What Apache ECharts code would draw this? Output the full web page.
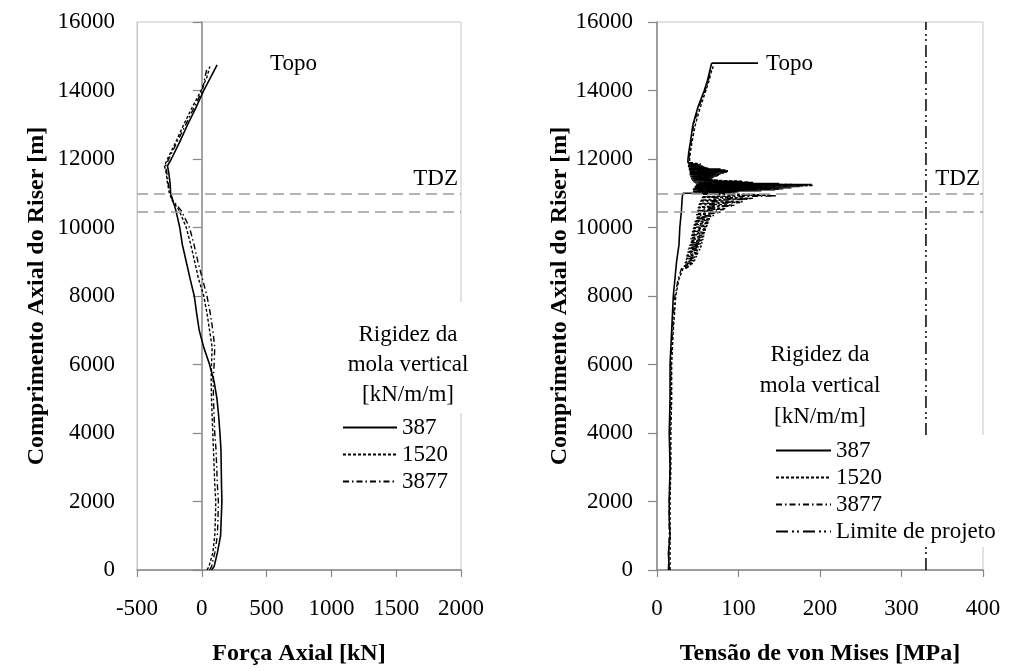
<!DOCTYPE html>
<html><head><meta charset="utf-8">
<script src="https://cdn.jsdelivr.net/npm/echarts@6.0.0/dist/echarts.min.js"></script>
<style>html,body{margin:0;padding:0;background:#fff}#c{width:1019px;height:671px}</style>
</head><body><div id="c"></div><script>
// ---------- DATA ----------
// Left chart: axial force [kN] vs axial length [m]
const lenF387  = [0,100,500,1000,1500,2000,2500,3000,3500,4000,4500,5000,5500,6000,6500,7000,7500,8000,8500,9000,9500,10000,10500,10800,11000,11300,11600,11800,12000,12500,13000,13500,14000,14400,14750];
const force387 = [75,95,120,145,150,155,152,150,148,140,130,117,95,60,15,-20,-40,-58,-90,-120,-150,-170,-200,-225,-240,-245,-255,-265,-235,-170,-110,-45,15,70,118];
const lenF1520  = [0,100,500,1000,1500,2000,2500,3000,3500,4000,4500,5000,5500,6000,6500,7000,7500,8000,8500,9000,9500,10000,10500,10800,11000,11300,11600,11800,12000,12500,13000,13500,14000,14400,14700];
const force1520 = [40,55,85,100,105,108,100,95,90,85,80,75,72,75,80,60,40,15,-25,-55,-85,-120,-175,-230,-250,-265,-275,-288,-265,-200,-140,-75,-5,40,62];
const lenF3877  = [0,100,500,1000,1500,2000,2500,3000,3500,4000,4500,5000,5500,6000,6500,7000,7500,8000,8500,9000,9500,10000,10500,10800,11000,11300,11600,11800,12000,12500,13000,13500,14000,14400,14650];
const force3877 = [60,75,100,120,125,128,120,115,110,100,95,90,88,95,100,85,65,40,5,-30,-60,-95,-160,-225,-245,-260,-270,-280,-255,-190,-125,-60,5,25,40];

// Right chart: von Mises stress [MPa] vs axial length [m]
const lenS387 = [0,500,1000,1500,2000,3000,4000,5000,6000,7000,8000,8500,9000,9500,10000,10500,10900,
  11000,11015,11030,11045,11060,11075,11090,11105,11120,11135,
  11150,11165,11180,11195,11210,11225,11240,11255,11270,11285,
  11300,11315,11330,11345,11360,11375,11390,11405,11420,11435,
  11450,11465,11480,11495,11510,11525,11540,11555,11570,11585,
  11600,11615,11630,11645,11660,11675,11690,11705,11720,11735,
  11750,11765,11780,11795,11810,11825,11840,11855,11870,11885,
  11900,
  12000,12200,12500,13000,13500,14000,14300,14500,14700,14800];
const stress387 = [15,14,16,15,15,16,15,16,16,18,20,22,24,27,28,30,31,
  32,95,45,100,44,128,45,145,44,155,
  46,165,46,175,47,185,48,190,48,150,
  47,118,45,100,44,75,43,68,42,66,
  42,70,41,74,41,76,40,78,40,82,
  40,86,40,87,40,84,39,78,39,62,
  39,58,38,56,38,52,38,48,38,44,
  38,
  38,39,41,44,50,58,62,64,66,67];

const lenS1520 = [0,1000,2000,3000,4000,5000,6000,7000,8000,8500,
  8800,8850,8900,8950,9000,9050,9100,9150,9200,9250,9300,9350,9400,9450,9500,9550,9600,9650,9700,9750,
  9800,9850,9900,9950,10000,10050,10100,10150,10200,10250,10300,10350,10400,10450,10500,10550,10600,10650,10700,10750,
  10800,10850,10900,10950,11000,11050,11100,11150,11200,11250,11300,11350,11400,11450,11500,11550,11600,11650,11700,11750,
  11800,11850,11900,
  12000,12200,12500,13000,13500,14000,14300,14500,14700];
const stress1520 = [16,16,16,17,17,18,18,20,23,27,
  32,40,34,45,35,47,36,49,37,51,38,53,39,55,40,56,41,57,42,58,
  43,59,44,61,45,62,46,64,47,66,48,70,49,78,50,85,51,95,52,105,
  54,118,56,140,55,98,52,145,55,175,50,105,46,68,44,76,42,87,41,60,
  40,54,40,
  40,41,43,47,53,60,64,66,69];

const lenS3877 = [0,1000,2000,3000,4000,5000,6000,7000,8000,8500,8800,
  8825,8875,8925,8975,9025,9075,9125,9175,9225,9275,9325,9375,9425,9475,9525,9575,9625,9675,9725,9775,
  9825,9875,9925,9975,10025,10075,10125,10175,10225,10275,10325,10375,10425,10475,10525,10575,10625,10675,10725,10775,
  10825,10875,10925,10975,11025,11075,11125,11175,11225,11275,11325,11375,11425,11475,11525,11575,11625,11675,11725,11775,
  11825,11875,
  11900,12000,12200,12500,13000,13500,14000,14300,14500,14700];
const stress3877 = [14,15,15,16,16,17,17,19,22,26,30,
  38,33,43,34,46,35,48,36,50,37,52,38,54,39,55,40,56,41,57,42,
  58,43,60,44,61,45,63,46,65,47,68,48,75,49,82,50,92,51,102,53,
  112,55,147,56,92,50,150,54,191,52,112,45,66,43,74,41,84,40,64,39,
  52,38,
  38,39,40,42,45,51,59,63,65,68];

const topoLeaderStress = [67,124];
const topoLeaderLen = [14800,14800];
const limitStress = 330;
const tdzTop = 11000, tdzBottom = 10450;

const xTicksLeft = {min:-500, max:2000, interval:500};
const xTicksRight = {min:0, max:400, interval:100};
const yTicks = {min:0, max:16000, interval:2000};
const legendNames = ['387','1520','3877'];
const limitName = 'Limite de projeto';

// ---------- CHART ----------
const FONT = "'Liberation Serif','Times New Roman',serif";
const AX = '#878787';
const BORDER = '#c6c6c6';
const pairs = (xs, ys) => xs.map((x,i)=>[x, ys[i]]);
const plain = v => String(v);

const tickLabel = {fontFamily:FONT, fontSize:23, color:'#000', formatter:plain};
const titleStyle = {fontFamily:FONT, fontSize:24, fontWeight:'bold', color:'#000'};

function xAxisCfg(grid, ticks, name){
  return {gridIndex:grid, type:'value', min:ticks.min, max:ticks.max, interval:ticks.interval,
    axisLine:{show:true, onZero:false, lineStyle:{color:AX, width:1.5}},
    axisTick:{show:true, length:7, lineStyle:{color:AX, width:1.2}},
    axisLabel:Object.assign({margin:27}, tickLabel), splitLine:{show:false},
    name:name, nameLocation:'middle', nameGap:72, nameTextStyle:titleStyle};
}
const yName = 'Comprimento Axial do Riser [m]';

const tdzMark = {
  silent:true, symbol:'none', animation:false,
  lineStyle:{color:'#9c9c9c', type:[11,6], width:1.5},
  label:{show:false},
  data:[
    {yAxis:tdzTop, label:{show:true, formatter:'TDZ', position:'insideEndTop', distance:3, fontFamily:FONT, fontSize:23, color:'#000'}},
    {yAxis:tdzBottom}
  ]
};

const lineBase = {type:'line', symbol:'none', showSymbol:false, animation:false, silent:true, z:3, itemStyle:{color:'#000'}};
const solid = {color:'#000', width:1.6, type:'solid'};
const dashed = {color:'#000', width:1.4, type:[3,2]};
const dashdot = {color:'#000', width:1.4, type:[6,3,1.5,3]};
const limitStyle = {color:'#000', width:1.5, type:[12,4,2,3,2,4]};
const legendText = {fontFamily:FONT, fontSize:23, color:'#000'};

const option = {
  backgroundColor:'#fff',
  animation:false,
  grid:[
    {left:137, top:22, width:324, height:550, show:true, borderColor:BORDER, borderWidth:1, backgroundColor:'transparent'},
    {left:657, top:22, width:326, height:550, show:true, borderColor:BORDER, borderWidth:1, backgroundColor:'transparent'}
  ],
  xAxis:[
    xAxisCfg(0, xTicksLeft, 'Força Axial [kN]'),
    xAxisCfg(1, xTicksRight, 'Tensão de von Mises [MPa]')
  ],
  yAxis:[
    {gridIndex:0, type:'value', min:yTicks.min, max:yTicks.max, interval:yTicks.interval, position:'left',
      axisLine:{show:true, onZero:false, lineStyle:{color:BORDER, width:1}}, axisTick:{show:false},
      axisLabel:Object.assign({margin:22}, tickLabel), splitLine:{show:false},
      name:yName, nameLocation:'middle', nameRotate:90, nameGap:88, nameTextStyle:titleStyle},
    {gridIndex:0, type:'value', min:yTicks.min, max:yTicks.max, interval:yTicks.interval, position:'left',
      axisLine:{show:true, onZero:true, lineStyle:{color:AX, width:1.5}},
      axisTick:{show:true, length:9, lineStyle:{color:AX, width:1.2}},
      axisLabel:{show:false}, splitLine:{show:false}},
    {gridIndex:1, type:'value', min:yTicks.min, max:yTicks.max, interval:yTicks.interval, position:'left',
      axisLine:{show:true, onZero:false, lineStyle:{color:AX, width:1.5}},
      axisTick:{show:true, length:9, lineStyle:{color:AX, width:1.2}},
      axisLabel:Object.assign({margin:24}, tickLabel), splitLine:{show:false},
      name:yName, nameLocation:'middle', nameRotate:90, nameGap:84, nameTextStyle:titleStyle}
  ],
  legend:[
    {data:legendNames, orient:'vertical', left:342, top:416, padding:0, itemWidth:54, itemHeight:26, itemGap:4,
      selectedMode:false, itemStyle:{opacity:0}, textStyle:legendText},
    {data:legendNames.concat([limitName]), orient:'vertical', left:770, top:435, padding:[4,20,4,5], itemWidth:55, itemHeight:26, itemGap:4,
      backgroundColor:'#fff', selectedMode:false, itemStyle:{opacity:0}, textStyle:legendText}
  ],
  series:[
    Object.assign({}, lineBase, {name:'387', xAxisIndex:0, yAxisIndex:0, data:pairs(force387, lenF387), lineStyle:solid, markLine:tdzMark}),
    Object.assign({}, lineBase, {name:'1520', xAxisIndex:0, yAxisIndex:0, data:pairs(force1520, lenF1520), lineStyle:dashed}),
    Object.assign({}, lineBase, {name:'3877', xAxisIndex:0, yAxisIndex:0, data:pairs(force3877, lenF3877), lineStyle:dashdot}),
    Object.assign({}, lineBase, {name:'387', xAxisIndex:1, yAxisIndex:2, data:pairs(stress387, lenS387), lineStyle:solid, markLine:tdzMark}),
    Object.assign({}, lineBase, {name:'1520', xAxisIndex:1, yAxisIndex:2, data:pairs(stress1520, lenS1520), lineStyle:dashed}),
    Object.assign({}, lineBase, {name:'3877', xAxisIndex:1, yAxisIndex:2, data:pairs(stress3877, lenS3877), lineStyle:dashdot}),
    Object.assign({}, lineBase, {name:'topoLeader', xAxisIndex:1, yAxisIndex:2, data:pairs(topoLeaderStress, topoLeaderLen), lineStyle:solid}),
    Object.assign({}, lineBase, {name:limitName, xAxisIndex:1, yAxisIndex:2, data:[[limitStress, yTicks.min],[limitStress, yTicks.max]], lineStyle:limitStyle})
  ],
  graphic:[
    {type:'rect', z:10, shape:{x:352, y:302, width:116, height:111}, style:{fill:'#fff'}},
    {type:'text', z:11, x:408, y:335, style:{text:'Rigidez da', fontFamily:FONT, fontSize:23, fill:'#000', align:'center', verticalAlign:'middle'}},
    {type:'text', z:11, x:408, y:365, style:{text:'mola vertical', fontFamily:FONT, fontSize:23, fill:'#000', align:'center', verticalAlign:'middle'}},
    {type:'text', z:11, x:408, y:395, style:{text:'[kN/m/m]', fontFamily:FONT, fontSize:23, fill:'#000', align:'center', verticalAlign:'middle'}},
    {type:'text', z:11, x:820, y:355, style:{text:'Rigidez da', fontFamily:FONT, fontSize:23, fill:'#000', align:'center', verticalAlign:'middle'}},
    {type:'text', z:11, x:820, y:386, style:{text:'mola vertical', fontFamily:FONT, fontSize:23, fill:'#000', align:'center', verticalAlign:'middle'}},
    {type:'text', z:11, x:820, y:417, style:{text:'[kN/m/m]', fontFamily:FONT, fontSize:23, fill:'#000', align:'center', verticalAlign:'middle'}},
    {type:'text', z:11, x:270, y:64, style:{text:'Topo', fontFamily:FONT, fontSize:23, fill:'#000', align:'left', verticalAlign:'middle'}},
    {type:'text', z:11, x:766, y:64, style:{text:'Topo', fontFamily:FONT, fontSize:23, fill:'#000', align:'left', verticalAlign:'middle'}}
  ]
};
const chart = echarts.init(document.getElementById('c'), null, {renderer:'canvas'});
chart.setOption(option);
</script></body></html>
